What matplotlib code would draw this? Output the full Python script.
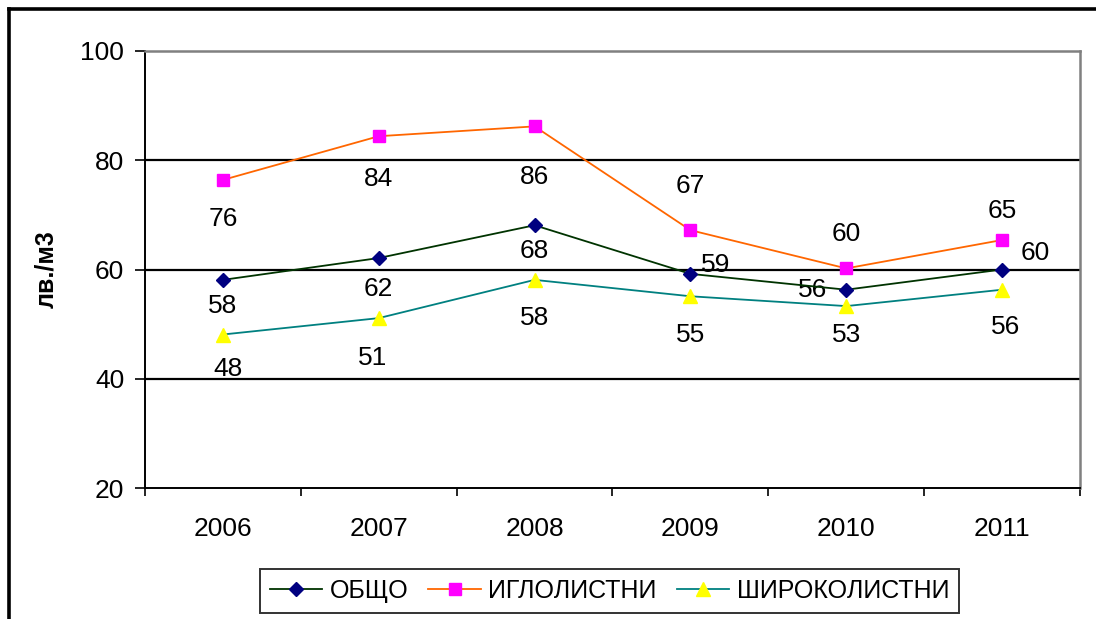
import numpy as np
import matplotlib
matplotlib.use("Agg")
import matplotlib.pyplot as plt
from matplotlib.lines import Line2D

plt.rcParams['font.family'] = ['Liberation Sans', 'DejaVu Sans']

# данни
years = ['2006', '2007', '2008', '2009', '2010', '2011']
obshto = [58.1, 62.1, 68.1, 59.2, 56.3, 60.0]
iglolistni = [76.4, 84.4, 86.2, 67.2, 60.2, 65.4]
shirokolistni = [48.1, 51.1, 58.1, 55.1, 53.3, 56.3]

# отместване на етикетите (пиксели), ръчно като в Excel
off_obshto = [(0, -26), (0, -31), (0, -26), (25, 9), (-34, 0), (33, 17)]
off_igl = [(0, -39), (0, -43), (0, -51), (0, 44), (0, 34), (0, 29)]
off_shir = [(5, -34), (-6, -40), (0, -38), (0, -39), (0, -29), (3, -37)]

fig = plt.figure(figsize=(10.96, 6.19), dpi=100)
ax = fig.add_axes([145/1096, 1-488/619, 935/1096, 437/619])

x = np.arange(len(years))

ax.plot(x, obshto, color='#003300', lw=1.3, marker='D', ms=7,
        mfc='#000080', mec='#000080', label='ОБЩО', zorder=4)
ax.plot(x, iglolistni, color='#FF6600', lw=1.3, marker='s', ms=8,
        mfc='#FF00FF', mec='#FF00FF', label='ИГЛОЛИСТНИ', zorder=4)
ax.plot(x, shirokolistni, color='#008080', lw=1.3, marker='^', ms=10,
        mfc='#FFFF00', mec='#FFFF00', label='ШИРОКОЛИСТНИ', zorder=4)

for vals, offs in [(obshto, off_obshto), (iglolistni, off_igl), (shirokolistni, off_shir)]:
    for xi, v, (dx, dy) in zip(x, vals, offs):
        ax.annotate('%.0f' % v, (xi, v), xytext=(dx*0.72, dy*0.72), textcoords='offset points',
                    ha='center', va='center', fontsize=19)

ax.set_xlim(-0.5, 5.5)
ax.set_ylim(20, 100)
ax.set_yticks([20, 40, 60, 80, 100])
ax.tick_params(axis='y', labelsize=19, length=7, width=1.2, direction='out', pad=8)
ax.set_xticks(x)
ax.set_xticklabels(years)
ax.set_xticks(np.arange(-0.5, 6, 1), minor=True)
ax.tick_params(axis='x', which='major', length=0, labelsize=19, pad=21)
ax.tick_params(axis='x', which='minor', length=6, width=1.2, direction='out')

for yv in [40, 60, 80]:
    ax.axhline(yv, color='black', lw=1.6, zorder=1)

for s in ['left', 'bottom']:
    ax.spines[s].set_color('black')
    ax.spines[s].set_linewidth(1.4)
for s in ['top', 'right']:
    ax.spines[s].set_color('#808080')
    ax.spines[s].set_linewidth(1.8)

ax.set_ylabel('лв./м3', fontsize=18, fontweight='bold')
ax.yaxis.set_label_coords((58-145)/935, 0.5)

leg = ax.legend(loc='center', bbox_to_anchor=(609.5/1096, 1-591/619), bbox_transform=fig.transFigure,
                ncol=3, fontsize=18, frameon=True, fancybox=False, handlelength=2.1,
                handletextpad=0.3, columnspacing=0.8, borderpad=0.4)
leg.get_frame().set_edgecolor('black')
leg.get_frame().set_linewidth(1.4)

# рамка на диаграмата
fig.add_artist(Line2D([9/1096, 9/1096], [0, 1-9/619], transform=fig.transFigure, color='black', lw=2.6))
fig.add_artist(Line2D([9/1096, 1], [1-9/619, 1-9/619], transform=fig.transFigure, color='black', lw=2.6))

fig.savefig('out.png', dpi=100)
